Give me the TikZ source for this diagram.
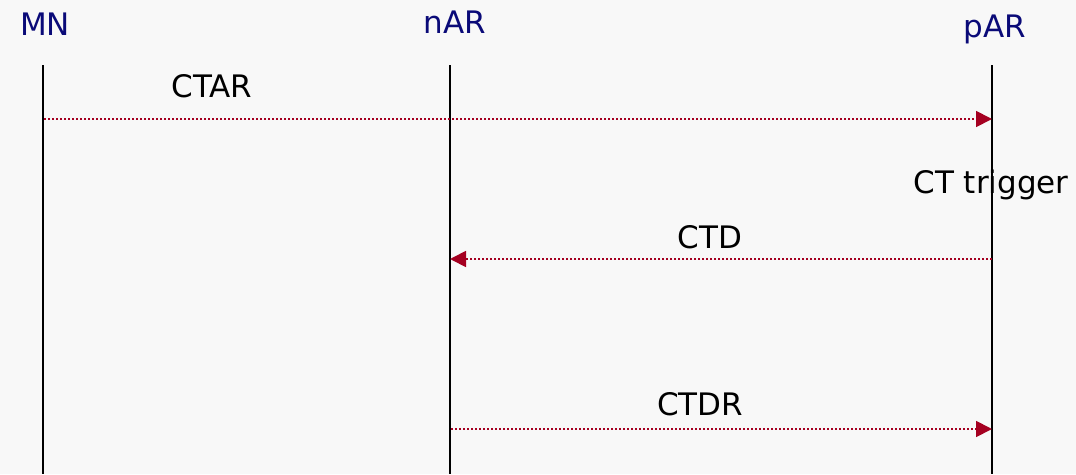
\documentclass[tikz,border=0pt]{standalone}
\usepackage{fontspec}
\setmainfont{DejaVu Sans}
\usetikzlibrary{arrows.meta}
\definecolor{bg}{HTML}{F8F8F8}
\definecolor{navy}{HTML}{0A0A78}
\definecolor{msg}{HTML}{A50021}
\begin{document}
\begin{tikzpicture}[x=1pt,y=-1pt,
  actor/.style={anchor=base,text=navy,font=\fontsize{31}{34}\selectfont,inner sep=0pt},
  lbl/.style={anchor=base,text=black,font=\fontsize{31}{34}\selectfont,inner sep=0pt},
  life/.style={line width=1.8pt,black},
  msgline/.style={msg,line width=1.8pt,dash pattern=on 1.8pt off 2.2pt,
    -{Triangle[length=16pt,width=16pt]}}]
\fill[bg] (0,0) rectangle (1076,474);
\useasboundingbox (0,0) rectangle (1076,474);
% actors
\node[actor] (mn) at (45,35) {MN};
\node[actor] (nar) at (455,33) {nAR};
\node[actor] (par) at (995,37) {pAR};
% lifelines
\coordinate (mnT) at (43,65);  \coordinate (mnB) at (43,474);
\coordinate (narT) at (450,65); \coordinate (narB) at (450,474);
\coordinate (parT) at (992,65); \coordinate (parB) at (992,474);
\draw[life] (mnT) -- (mnB);
\draw[life] (narT) -- (narB);
\draw[life] (parT) -- (parB);
% message endpoints
\coordinate (m1s) at (44,119);  \coordinate (m1e) at (992,119);
\coordinate (m2s) at (992,259); \coordinate (m2e) at (450,259);
\coordinate (m3s) at (451,429); \coordinate (m3e) at (992,429);
\draw[msgline] (m1s) -- (m1e);
\draw[msgline] (m2s) -- (m2e);
\draw[msgline] (m3s) -- (m3e);
% labels
\node[lbl] (ctar) at (212,97) {CTAR};
\node[lbl] (trig) at (991,193) {CT trigger};
\node[lbl] (ctd) at (710,248) {CTD};
\node[lbl] (ctdr) at (700,415) {CTDR};
\end{tikzpicture}
\end{document}
